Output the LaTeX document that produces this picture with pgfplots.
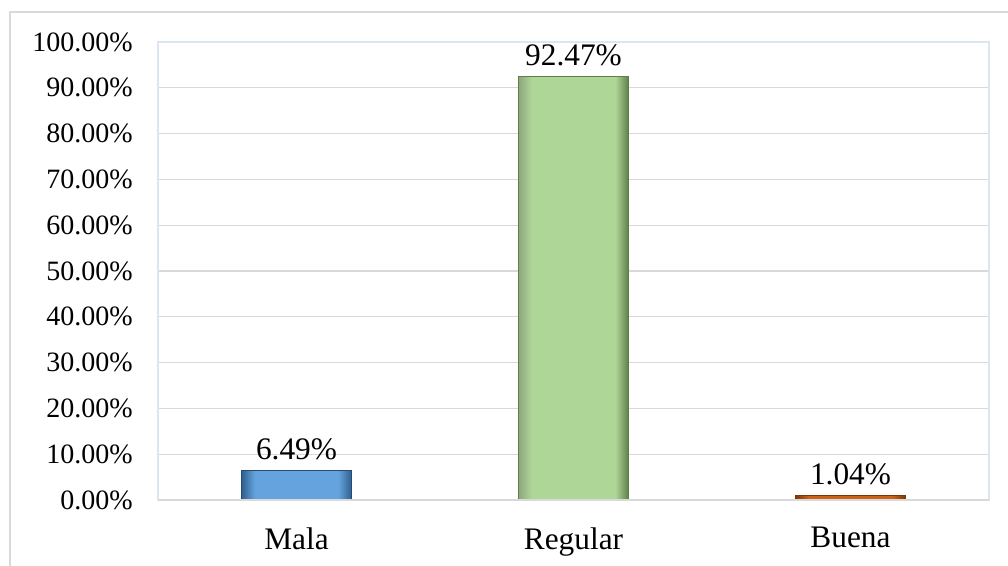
\documentclass[border=0pt]{standalone}
\usepackage{pgfplots}
\pgfplotsset{compat=1.18}
\usepackage{fontspec}
\setmainfont{Liberation Serif}

\definecolor{gridgray}{HTML}{D9D9D9}
\definecolor{framecol}{HTML}{DCE6F2}
\definecolor{blueMain}{HTML}{64A3DD}
\definecolor{blueDark}{HTML}{2F5F8F}
\definecolor{greenMain}{HTML}{AED697}
\definecolor{greenDark}{HTML}{5E7F48}
\definecolor{orangeMain}{HTML}{CC6218}
\definecolor{orangeDark}{HTML}{7A3608}

% bevelled bar faces: dark edges, flat face (TikZ fits the 25bp--75bp band to the bar)
\pgfdeclarehorizontalshading{blueBevel}{100bp}{color(0bp)=(blueDark); color(25bp)=(blueDark); color(31bp)=(blueMain); color(69bp)=(blueMain); color(75bp)=(blueDark); color(100bp)=(blueDark)}
\pgfdeclarehorizontalshading{greenBevel}{100bp}{color(0bp)=(greenDark!70); color(25bp)=(greenDark!70); color(31bp)=(greenMain); color(69bp)=(greenMain); color(75bp)=(greenDark); color(100bp)=(greenDark)}
\pgfdeclarehorizontalshading{orangeBevel}{100bp}{color(0bp)=(orangeDark); color(25bp)=(orangeDark); color(31bp)=(orangeMain); color(69bp)=(orangeMain); color(75bp)=(orangeDark); color(100bp)=(orangeDark)}

\begin{document}
\begin{tikzpicture}
  % page area (1px = 0.75pt) and outer chart border
  \path[use as bounding box] (0pt,0pt) rectangle (756pt,423.75pt);
  \draw[gridgray, line width=1.5pt] (7.5pt,-10pt) -- (7.5pt,414.75pt) -- (770pt,414.75pt);

  \begin{axis}[
    at={(118.5pt,48.75pt)}, anchor=south west,
    scale only axis,
    width=623.25pt, height=343.5pt,
    xmin=-0.5, xmax=2.5,
    ymin=0, ymax=100,
    ybar, bar width=82.5pt, bar shift=0pt,
    xtick={0,1,2},
    xticklabels={Mala, Regular, Buena},
    ytick={0,10,...,100},
    yticklabel={\pgfmathprintnumber[fixed,fixed zerofill,precision=2]{\tick}\%},
    /pgf/number format/assume math mode=true,
    ymajorgrids, grid style={gridgray, line width=1pt},
    axis line style={framecol, line width=1pt},
    major tick length=0pt,
    yticklabel style={font=\fontsize{21}{25}\selectfont, black, xshift=-15.5pt},
    xticklabel style={font=\fontsize{23.5}{28}\selectfont, black, yshift=-17pt},
    nodes near coords={\pgfmathprintnumber[fixed,fixed zerofill,precision=2]{\pgfplotspointmeta}\%},
    nodes near coords style={font=\fontsize{23.5}{28}\selectfont, black, yshift=4pt},
    clip=false,
  ]
    \addplot[draw=blueDark!80!black, line width=0.6pt, shading=blueBevel]
      coordinates {(0,6.49)};
    \addplot[draw=greenDark, line width=0.6pt, shading=greenBevel]
      coordinates {(1,92.47)};
    \addplot[draw=orangeDark, line width=0.6pt, shading=orangeBevel]
      coordinates {(2,1.04)};
    \draw[gridgray, line width=1.5pt] (axis cs:-0.5,0) -- (axis cs:2.5,0);
  \end{axis}
\end{tikzpicture}
\end{document}
